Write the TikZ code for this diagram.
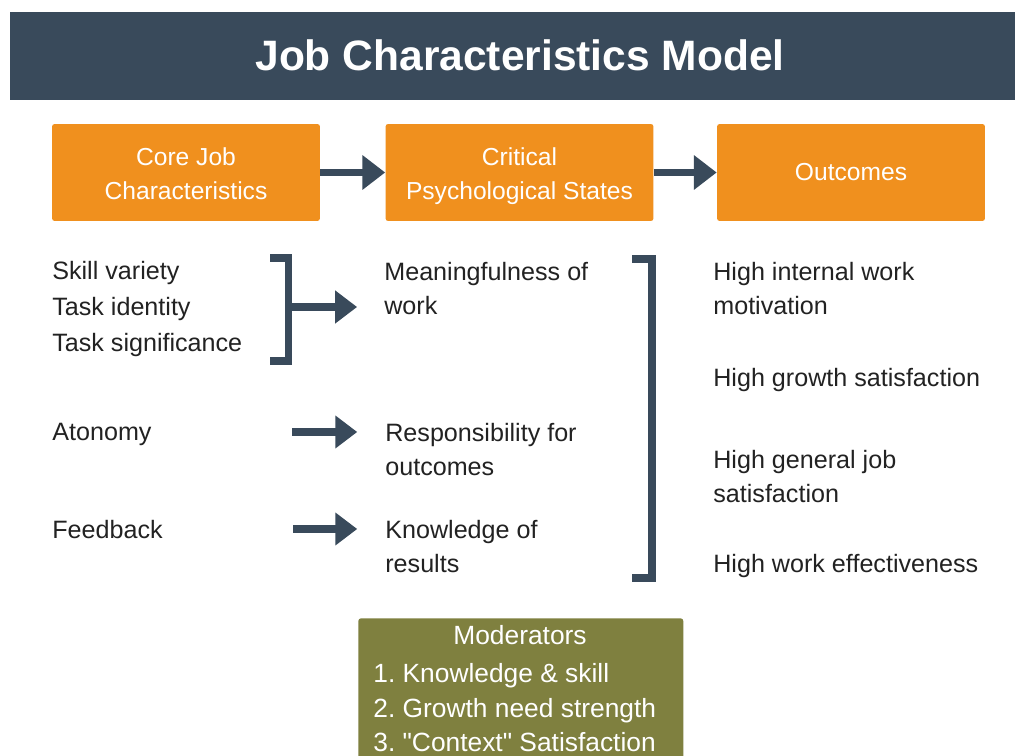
\documentclass[tikz,border=0pt]{standalone}
\usepackage{fontspec}
\setmainfont{Liberation Sans}
\usetikzlibrary{arrows.meta}
\definecolor{slate}{HTML}{394A5B}
\definecolor{orng}{HTML}{F0901E}
\definecolor{olivebox}{HTML}{7F803F}
\definecolor{txt}{HTML}{222222}
\frenchspacing
\newcommand{\topstrut}{\rule{0pt}{16.9pt}}
\begin{document}
\begin{tikzpicture}[x=0.02cm,y=-0.02cm,
  hdrbox/.style={fill=orng, rounded corners=1.5pt, minimum width=5.36cm, minimum height=1.94cm,
    text=white, align=center, inner sep=0pt, font=\fontsize{14}{19.3}\selectfont},
  bodytext/.style={text=txt, align=left, inner sep=0pt, anchor=base west,
    font=\fontsize{14.3}{19.6}\selectfont},
  modtext/.style={text=white, align=left, inner sep=0pt, anchor=base west,
    font=\fontsize{15}{19.8}\selectfont},
  fatarrow/.style={draw=slate, line width=4pt, -{Triangle[length=12.5pt,width=18pt]}},
  bracket/.style={draw=slate, line width=4.3pt, miter limit=10}]
\clip (0,0) rectangle (1015,756);
\fill[white] (0,0) rectangle (1015,756);
% header
\node[fill=slate, minimum width=20.1cm, minimum height=1.76cm, anchor=north west, inner sep=0pt] (hdr) at (10,12) {};
\node[text=white, font=\fontsize{24.2}{28}\selectfont\bfseries, inner sep=0pt] (title) at (520,55) {Job Characteristics Model};
% column headers
\node[hdrbox] (b1) at (186,172.5) {\topstrut Core Job\\\strut Characteristics};
\node[hdrbox] (b2) at (519.5,172.5) {\topstrut Critical\\\strut Psychological States};
\node[hdrbox] (b3) at (851,172.5) {Outcomes};
\draw[fatarrow, line width=4.4pt, -{Triangle[length=13pt,width=19pt]}] (b1.east) -- (b2.west);
\draw[fatarrow, line width=4.4pt, -{Triangle[length=13pt,width=19pt]}] (b2.east) -- (b3.west);
% left column
\node[bodytext, font=\fontsize{14.3}{20.6}\selectfont] (core) at (52,352) {Skill variety\\Task identity\\Task significance};
\node[bodytext] (aut) at (52,441) {Atonomy};
\node[bodytext] (fb) at (52,539) {Feedback};
% middle column
\node[bodytext] (mean) at (384,315) {Meaningfulness of\\work};
\node[bodytext] (resp) at (385,476) {Responsibility for\\outcomes};
\node[bodytext] (know) at (385,573) {Knowledge of\\results};
% right column
\node[bodytext] (o1) at (713,315) {High internal work\\motivation};
\node[bodytext] (o2) at (713,387) {High growth satisfaction};
\node[bodytext] (o3) at (713,503) {High general job\\satisfaction};
\node[bodytext] (o4) at (713,573) {High work effectiveness};
% brackets
\draw[bracket] (270,258) -- (288.5,258) -- (288.5,361) -- (270,361);
\draw[bracket] (632,259) -- (652,259) -- (652,578) -- (632,578);
% arrows
\coordinate (s1) at (292,307);
\coordinate (s2) at (292,432);
\coordinate (s3) at (293,529);
\draw[fatarrow, shorten >=15.3pt] (s1) -- (s1 -| mean.west);
\draw[fatarrow, shorten >=15.8pt] (s2) -- (s2 -| resp.west);
\draw[fatarrow, shorten >=15.8pt] (s3) -- (s3 -| know.west);
% moderators
\node[fill=olivebox, rounded corners=1.5pt, minimum width=6.5cm, minimum height=3cm, anchor=north west, inner sep=0pt] (mod) at (358,618) {};
\node[text=white, inner sep=0pt, anchor=base, font=\fontsize{15}{19.8}\selectfont] (modt) at (520,645) {Moderators};
\node[modtext] (modl) at (373,752) {1. Knowledge \& skill\\2. Growth need strength\\3. \textquotedbl Context\textquotedbl\ Satisfaction};
\end{tikzpicture}
\end{document}
